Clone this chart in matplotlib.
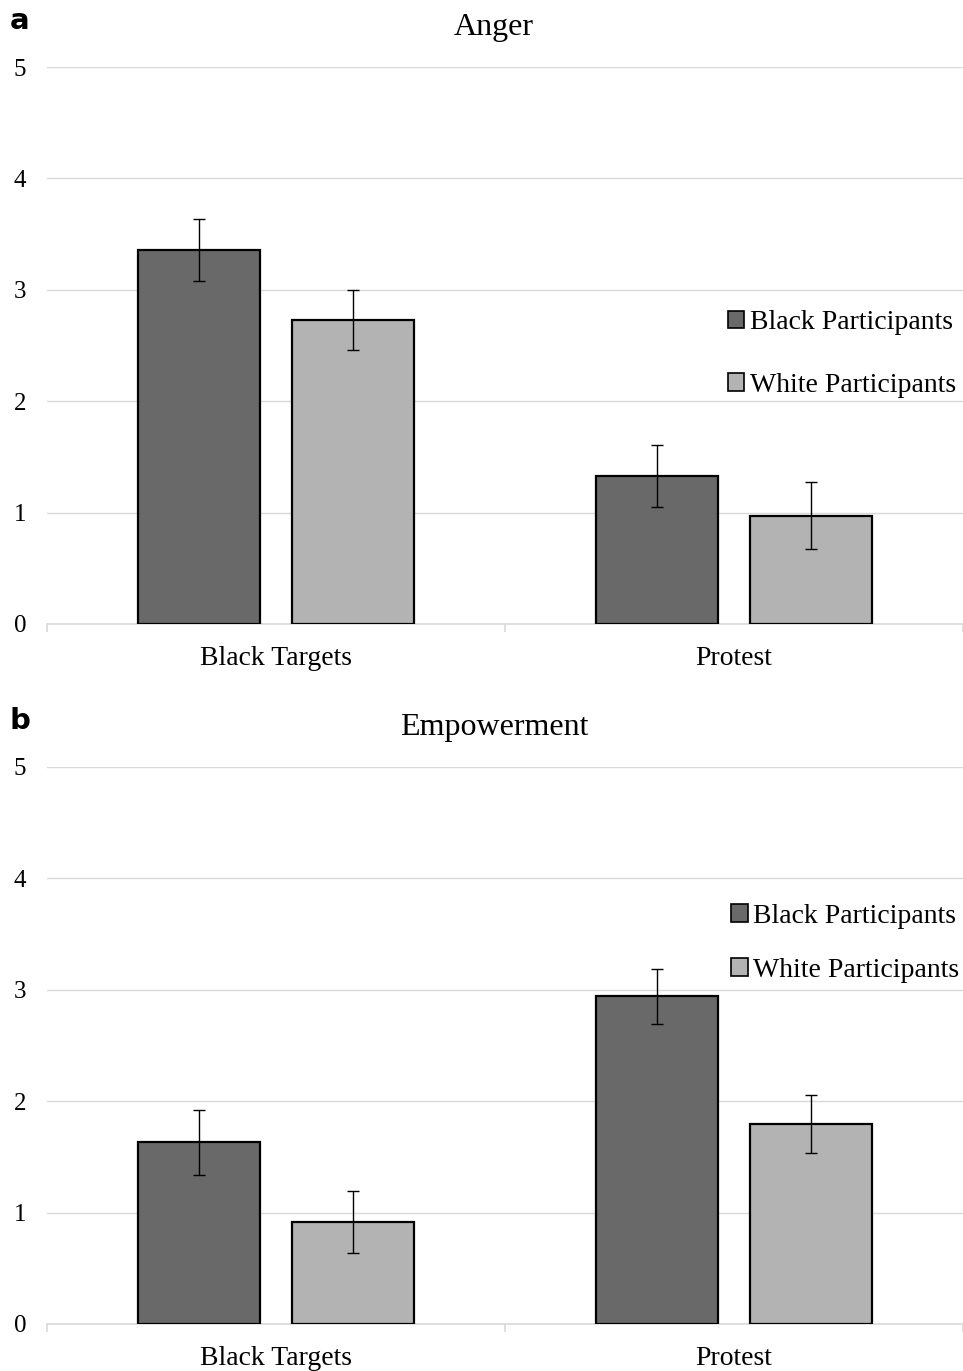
import numpy as np
import matplotlib
matplotlib.use('Agg')
import matplotlib.pyplot as plt
from matplotlib.patches import Patch

# data
categories = ['Black Targets', 'Protest']
groups = ['Black Participants', 'White Participants']
anger_black = [3.36, 1.33]
anger_white = [2.73, 0.97]
anger_black_err = [0.28, 0.28]
anger_white_err = [0.27, 0.30]
emp_black = [1.63, 2.94]
emp_white = [0.915, 1.795]
emp_black_err = [0.29, 0.25]
emp_white_err = [0.28, 0.26]
yticks = [0, 1, 2, 3, 4, 5]

DARK = '#696969'
LIGHT = '#b3b3b3'
GRID = '#d9d9d9'
SERIF = ['Liberation Serif', 'DejaVu Serif']

fig = plt.figure(figsize=(9.63, 13.71), dpi=100)


def panel(rect, title, letter, letter_y, black, white, berr, werr, leg_xy, leg_space):
    ax = fig.add_axes(rect)
    x = np.arange(len(categories))
    off, w = 0.168, 0.266
    kw = dict(width=w, edgecolor='black', linewidth=1.6, zorder=3)
    ax.bar(x - off, black, color=DARK, **kw)
    ax.bar(x + off, white, color=LIGHT, **kw)
    ekw = dict(fmt='none', ecolor='black', elinewidth=1.0, capsize=4, capthick=1.0, zorder=4)
    ax.errorbar(x - off, black, yerr=berr, **ekw)
    ax.errorbar(x + off, white, yerr=werr, **ekw)

    ax.set_xlim(-0.5, 1.5)
    ax.set_ylim(0, 5)
    ax.set_yticks(yticks)
    ax.yaxis.grid(True, color=GRID, linewidth=1.0, zorder=0)
    ax.set_axisbelow(True)
    for s in ['top', 'right', 'left']:
        ax.spines[s].set_visible(False)
    ax.spines['bottom'].set_color(GRID)
    ax.spines['bottom'].set_linewidth(1.2)
    ax.tick_params(axis='y', length=0, pad=15, labelsize=18)
    ax.set_xticks([-0.5, 0.5, 1.5])
    ax.set_xticklabels([])
    ax.set_xticks(x, minor=True)
    ax.set_xticklabels(categories, minor=True)
    ax.tick_params(axis='x', which='major', length=6, color=GRID, width=1.2)
    ax.tick_params(axis='x', which='minor', length=0, pad=16, labelsize=20)
    for lab in ax.get_yticklabels() + ax.get_xticklabels(minor=True):
        lab.set_family(SERIF)
    ax.set_title(title, fontsize=23, family=SERIF, pad=23, x=0.488)

    handles = [Patch(facecolor=DARK, edgecolor='black', linewidth=1.2),
               Patch(facecolor=LIGHT, edgecolor='black', linewidth=1.2)]
    ax.legend(handles, groups, loc='center left', bbox_to_anchor=leg_xy,
              frameon=False, prop={'family': SERIF, 'size': 20},
              handlelength=0.6, handleheight=0.6, handletextpad=0.2,
              labelspacing=leg_space, borderaxespad=0, borderpad=0)
    fig.text(0.010, letter_y, letter, fontsize=21, fontweight='bold',
             family='DejaVu Sans', va='center', ha='left')
    return ax


panel([0.0488, 0.5449, 0.9512, 0.4062], 'Anger', 'a', 0.985,
      anger_black, anger_white, anger_black_err, anger_white_err,
      (0.743, 0.4845), 1.35)
panel([0.0488, 0.0343, 0.9512, 0.4063], 'Empowerment', 'b', 0.474,
      emp_black, emp_white, emp_black_err, emp_white_err,
      (0.747, 0.6835), 1.05)

fig.savefig('out.png', dpi=100)
